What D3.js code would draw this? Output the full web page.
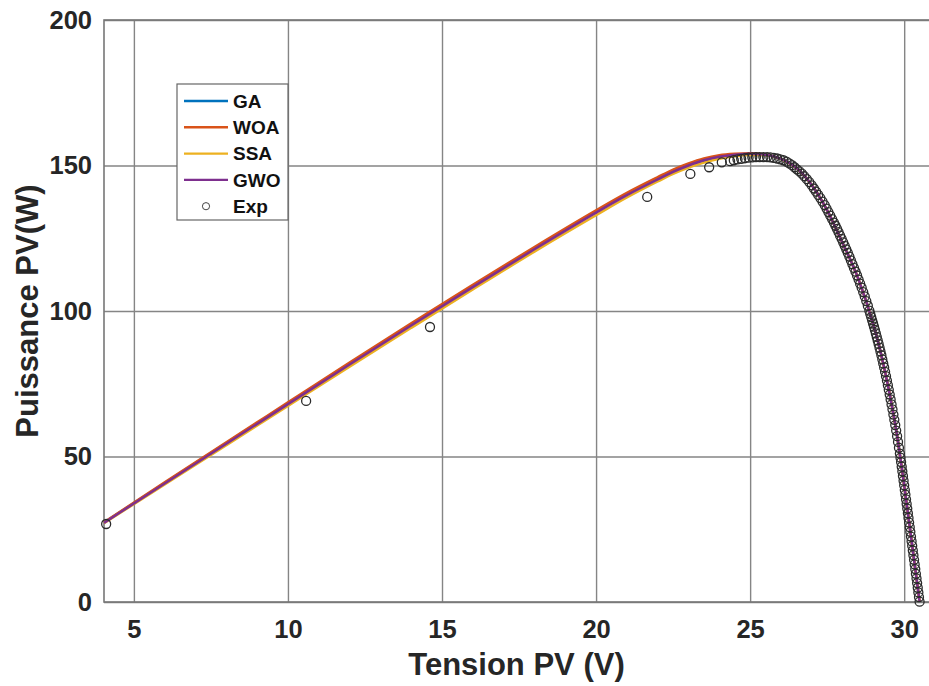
<!DOCTYPE html>
<html>
<head>
<meta charset="utf-8">
<script src="https://cdn.jsdelivr.net/npm/d3@7"></script>
<style>
  body { margin: 0; background: #fff; }
  svg { font-family: "Liberation Sans", Arial, sans-serif; }
</style>
</head>
<body>
<div id="chart"></div>
<script>
// tick values
const xTicks = [5, 10, 15, 20, 25, 30];
const yTicks = [0, 50, 100, 150, 200];

// model curves share one voltage grid
const modelV = [4.03, 6, 8, 10, 12, 14, 16, 18, 20, 21, 22, 22.5, 23, 23.5, 24, 24.5, 25, 25.5, 26, 26.5, 27, 27.5, 28, 28.5, 29, 29.25, 29.5, 29.75, 30, 30.25, 30.5];
const gaP  = [27.3, 40.9, 54.6, 68.3, 81.9, 95.4, 108.6, 121.6, 134.2, 140.2, 145.6, 148.1, 150.2, 151.7, 152.6, 153.3, 153.7, 153.6, 152.3, 149.2, 143.3, 134.6, 123.4, 111.4, 95.3, 85.2, 72.9, 58.4, 40.1, 20.1, 0.1];
const woaP = [27.4, 41.1, 54.9, 68.6, 82.3, 95.8, 109.0, 122.0, 134.6, 140.6, 146.0, 148.6, 150.7, 152.4, 153.5, 154.0, 154.2, 153.8, 152.3, 149.2, 143.3, 134.6, 123.4, 111.4, 95.3, 85.2, 72.9, 58.4, 40.1, 20.1, 0.1];
const ssaP = [27.1, 40.4, 53.9, 67.4, 80.9, 94.2, 107.4, 120.4, 132.9, 139.0, 144.5, 147.1, 149.3, 151.0, 152.3, 153.2, 153.6, 153.5, 152.2, 149.1, 143.3, 134.6, 123.4, 111.4, 95.3, 85.2, 72.9, 58.4, 40.1, 20.1, 0.1];
const gwoP = [27.2, 40.7, 54.4, 68.0, 81.6, 95.0, 108.2, 121.2, 133.8, 139.8, 145.2, 147.8, 150.0, 151.8, 153.0, 153.7, 154.0, 153.7, 152.3, 149.2, 143.3, 134.6, 123.4, 111.4, 95.3, 85.2, 72.9, 58.4, 40.1, 20.1, 0.1];

// measured points
const expV = [4.10, 10.59, 14.61, 21.66, 23.06, 23.67, 24.08,
  24.35, 24.47, 24.59, 24.71, 24.83, 24.95, 25.07, 25.19, 25.31, 25.43, 25.55, 25.66, 25.77, 25.88, 25.98, 26.08, 26.18,
  26.27, 26.36, 26.44, 26.52, 26.60, 26.68, 26.76, 26.84, 26.92, 27.00, 27.07, 27.14, 27.21, 27.28, 27.35, 27.42, 27.48, 27.54, 27.60, 27.66, 27.72,
  27.77, 27.82, 27.87, 27.92, 27.97, 28.02, 28.07, 28.12, 28.17, 28.22, 28.27, 28.32, 28.37, 28.42, 28.47, 28.52, 28.57, 28.62, 28.67, 28.72, 28.77, 28.82, 28.87,
  28.90, 28.93, 28.96, 28.99, 29.02, 29.05, 29.08, 29.11, 29.14, 29.17, 29.20, 29.23, 29.26, 29.29, 29.32, 29.35, 29.38, 29.41, 29.44, 29.47, 29.50, 29.53, 29.56, 29.59, 29.62, 29.65, 29.68, 29.71, 29.74, 29.77, 29.80, 29.83, 29.86, 29.88,
  29.90, 29.92, 29.94, 29.96, 29.98, 30.00, 30.02, 30.04, 30.06, 30.08, 30.10, 30.12, 30.14, 30.16, 30.18, 30.20, 30.22, 30.24, 30.26, 30.28, 30.30, 30.32, 30.34, 30.36, 30.38, 30.40, 30.42, 30.44, 30.46, 30.48, 30.50];
const expP = [26.8, 69.1, 94.5, 139.2, 147.1, 149.4, 151.1,
  151.5, 151.8, 152.1, 152.3, 152.5, 152.7, 152.8, 152.9, 152.9, 152.9, 152.9, 152.8, 152.6, 152.4, 152.1, 151.8, 151.3,
  150.7, 150.1, 149.4, 148.7, 148.0, 147.2, 146.3, 145.3, 144.3, 143.2, 142.1, 141.0, 139.9, 138.8, 137.6, 136.4, 135.2, 134.0, 132.8, 131.6, 130.4,
  129.3, 128.2, 127.1, 125.9, 124.8, 123.6, 122.4, 121.2, 120.0, 118.7, 117.4, 116.1, 114.8, 113.5, 112.2, 110.8, 109.4, 108.0, 106.5, 105.0, 103.4, 101.8, 100.1,
  99.0, 97.9, 96.8, 95.7, 94.6, 93.5, 92.3, 91.1, 89.9, 88.7, 87.4, 86.1, 84.8, 83.4, 82.0, 80.6, 79.1, 77.6, 76.1, 74.5, 72.9, 71.3, 69.6, 67.9, 66.2, 64.4, 62.6, 60.8, 58.9, 57.0, 55.0, 53.0, 51.0, 49.6,
  48.1, 46.5, 44.9, 43.3, 41.7, 40.1, 38.5, 36.9, 35.3, 33.7, 32.1, 30.5, 28.9, 27.3, 25.7, 24.1, 22.5, 20.9, 19.3, 17.7, 16.1, 14.5, 12.9, 11.3, 9.7, 8.1, 6.5, 4.9, 3.3, 1.7, 0.1];

const seriesNames = ["GA", "WOA", "SSA", "GWO"];
const seriesP = [gaP, woaP, ssaP, gwoP];
const colors = ["#0072BD", "#D95319", "#EDB120", "#7E2F8E"];

const W = 929, H = 686;
const margin = {top: 20, left: 104};
const width = 831, height = 582;

const svg = d3.select("#chart").append("svg")
  .attr("width", W)
  .attr("height", H);

const g = svg.append("g")
  .attr("transform", `translate(${margin.left},${margin.top})`);

const x = d3.scaleLinear().domain([4.03, 31]).range([0, width]);
const y = d3.scaleLinear().domain([0, 200]).range([height, 0]);

// grid + axes
const xAxis = g.append("g")
  .attr("transform", `translate(0,${height})`)
  .call(d3.axisBottom(x).tickValues(xTicks).tickSize(-height).tickPadding(18));
const yAxis = g.append("g")
  .call(d3.axisLeft(y).tickValues(yTicks).tickSize(-width).tickPadding(12));

[xAxis, yAxis].forEach(a => {
  a.select(".domain").remove();
  a.selectAll("line").attr("stroke", "#858585").attr("stroke-width", 1.4);
  a.selectAll("text")
    .attr("fill", "#262626")
    .style("font-size", "25.5px")
    .style("font-weight", "bold");
});

// box
g.append("rect")
  .attr("width", width)
  .attr("height", height)
  .attr("fill", "none")
  .attr("stroke", "#777")
  .attr("stroke-width", 1.6);

// model lines
const line = d3.line()
  .x(d => x(d[0]))
  .y(d => y(d[1]))
  .curve(d3.curveMonotoneX);

seriesP.forEach((ps, i) => {
  g.append("path")
    .datum(modelV.map((v, j) => [v, ps[j]]))
    .attr("fill", "none")
    .attr("stroke", colors[i])
    .attr("stroke-width", 2.5)
    .attr("d", line);
});

// measured circles
g.selectAll("circle.exp")
  .data(expV.map((v, j) => [v, expP[j]]))
  .enter().append("circle")
  .attr("class", "exp")
  .attr("cx", d => x(d[0]))
  .attr("cy", d => y(d[1]))
  .attr("r", 4.5)
  .attr("fill", "none")
  .attr("stroke", "#2b2b2b")
  .attr("stroke-width", 1.3);

// axis titles
svg.append("text")
  .attr("x", margin.left + width / 2 - 3)
  .attr("y", 675)
  .attr("text-anchor", "middle")
  .attr("fill", "#262626")
  .style("font-size", "31px")
  .style("font-weight", "bold")
  .text("Tension PV (V)");

svg.append("text")
  .attr("transform", `translate(38,${margin.top + height / 2}) rotate(-90)`)
  .attr("text-anchor", "middle")
  .attr("fill", "#262626")
  .style("font-size", "31px")
  .style("font-weight", "bold")
  .text("Puissance PV(W)");

// legend
const legend = svg.append("g").attr("transform", "translate(177,84)");
legend.append("rect")
  .attr("width", 111)
  .attr("height", 136)
  .attr("fill", "#fff")
  .attr("stroke", "#666")
  .attr("stroke-width", 1.2);

const labels = seriesNames.concat(["Exp"]);
labels.forEach((name, i) => {
  const ly = 17 + i * 26.3;
  if (i < 4) {
    legend.append("line")
      .attr("x1", 7).attr("x2", 51)
      .attr("y1", ly).attr("y2", ly)
      .attr("stroke", colors[i])
      .attr("stroke-width", 2.4);
  } else {
    legend.append("circle")
      .attr("cx", 29).attr("cy", ly)
      .attr("r", 3.6)
      .attr("fill", "none")
      .attr("stroke", "#444")
      .attr("stroke-width", 1);
  }
  legend.append("text")
    .attr("x", 56)
    .attr("y", ly)
    .attr("dy", "0.36em")
    .attr("fill", "#111")
    .style("font-size", "19px")
    .style("font-weight", "bold")
    .text(name);
});
</script>
</body>
</html>
